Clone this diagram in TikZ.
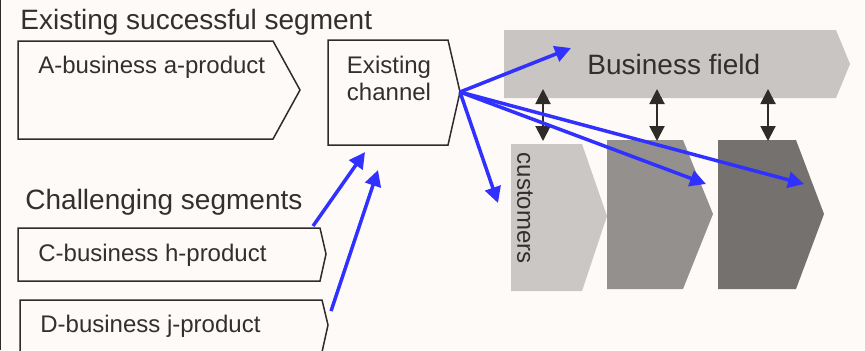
\documentclass[tikz,border=0pt]{standalone}
\usepackage{fontspec}
\setmainfont{Liberation Sans}
\usetikzlibrary{arrows.meta}
\definecolor{paper}{HTML}{FDFAF7}
\definecolor{ink}{HTML}{332F2C}
\definecolor{edge}{HTML}{2F2B28}
\definecolor{fieldgray}{HTML}{C9C5C2}
\definecolor{custgray}{HTML}{CBC7C4}
\definecolor{midgray}{HTML}{94908D}
\definecolor{darkgray}{HTML}{75716E}
\definecolor{linkblue}{RGB}{48,48,255}
\tikzset{
x=0.5pt, y=-0.5pt, % one unit is one pixel of the slide
segbox/.style={draw=edge, line width=0.75pt, line join=miter}, % outlined chevrons
lbl/.style={text=ink, inner sep=0pt, anchor=base west},
link/.style={draw=linkblue, line width=1.75pt, -{Triangle[length=8pt,width=8pt]}}, % blue arrows
tie/.style={draw=edge, line width=1pt, {Triangle[length=7.5pt,width=7.5pt]}-{Triangle[length=7.5pt,width=7.5pt]}},
}

\begin{document}
\begin{tikzpicture}
        \useasboundingbox (0,0) rectangle (865,350);
        \clip (0,0) rectangle (865,350);
        \fill[paper] (0,0) rectangle (865,350);
        \draw[edge, line width=0.75pt] (0.5,0) -- (0.5,350);

        % left side segments
        \draw[segbox] (18,41) -- (273,41) -- (300,90) -- (273,139) -- (18,139) -- cycle;
        \draw[segbox] (328,40) -- (448,40) -- (460,92) -- (448,145) -- (328,145) -- cycle;
        \draw[segbox] (18,228) -- (320,228) -- (326,254) -- (320,281) -- (18,281) -- cycle;
        \draw[segbox] (20,300) -- (322,300) -- (328,325) -- (322,352) -- (20,352) -- cycle;

        % business field and customer groups
        \fill[fieldgray] (504,30) -- (836,30) -- (850,64) -- (836,98) -- (504,98) -- cycle;
        \fill[custgray] (511,144) -- (582,144) -- (607,216) -- (582,291) -- (511,291) -- cycle;
        \fill[midgray] (607,140) -- (683,140) -- (713,214) -- (683,289) -- (607,289) -- cycle;
        \fill[darkgray] (718,140) -- (796,140) -- (824,214) -- (796,289) -- (718,289) -- cycle;

        \node[lbl, font=\fontsize{14}{16}\selectfont] (title) at (20,29) {Existing successful segment};
        \node[lbl, font=\fontsize{12}{14}\selectfont] (abiz) at (38,73) {A-business a-product};
        \node[text=ink, inner sep=0pt, align=center, font=\fontsize{12}{13.5}\selectfont] (chan) at (389,78) {Existing\\channel};
        \node[lbl, font=\fontsize{14}{16}\selectfont] (field) at (587,74) {Business field};
        \node[text=ink, inner sep=0pt, rotate=-90, font=\fontsize{12}{14}\selectfont] (cust) at (525,208) {customers};
        \node[lbl, font=\fontsize{14}{16}\selectfont] (chal) at (25,209) {Challenging segments};
        \node[lbl, font=\fontsize{12}{14}\selectfont] (cbiz) at (38,261) {C-business h-product};
        \node[lbl, font=\fontsize{12}{14}\selectfont] (dbiz) at (40,332) {D-business j-product};

        % end points of the arrows
        \coordinate (tip) at (460,92);
        \coordinate (fieldin) at (571,48);
        \coordinate (custin) at (498,203);
        \coordinate (midin) at (706,184);
        \coordinate (darkin) at (804,184);
        \coordinate (cout) at (313,226);
        \coordinate (cin) at (365,152);
        \coordinate (dout) at (331,311);
        \coordinate (din) at (378,170);
        \coordinate (t1a) at (543,89);
        \coordinate (t1b) at (543,141);
        \coordinate (t2a) at (657,89);
        \coordinate (t2b) at (657,141);
        \coordinate (t3a) at (768,89);
        \coordinate (t3b) at (768,141);

        \draw[tie] (t1a) -- (t1b);
        \draw[tie] (t2a) -- (t2b);
        \draw[tie] (t3a) -- (t3b);

        \draw[link] (tip) -- (fieldin);
        \draw[link] (tip) -- (custin);
        \draw[link] (tip) -- (midin);
        \draw[link] (tip) -- (darkin);
        \draw[link] (cout) -- (cin);
        \draw[link] (dout) -- (din);

  \end{tikzpicture}
\end{document}
